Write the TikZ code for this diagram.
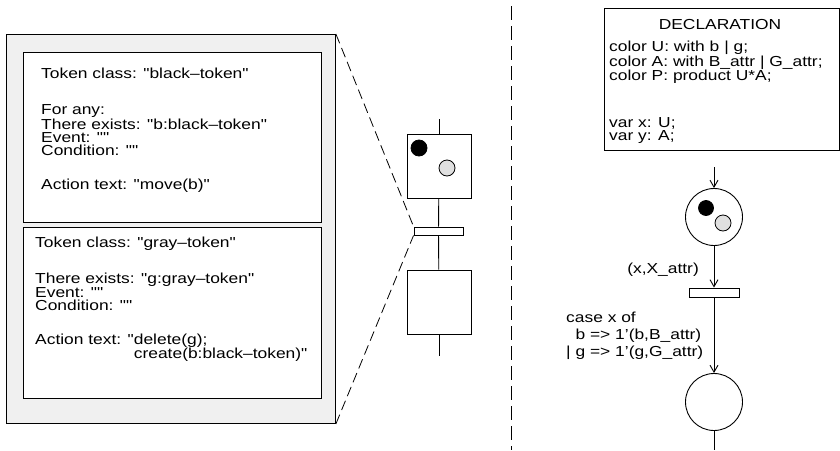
\documentclass[tikz,border=0pt]{standalone}
\usepackage{fontspec}
\setmainfont{Liberation Sans}[FakeStretch=1.2, Ligatures=TeXOff]
\usetikzlibrary{positioning, arrows.meta, calc}
\definecolor{panelgray}{HTML}{F0F0F0}
\definecolor{tokengray}{HTML}{E0E0E0}

\tikzset{
  frame/.style={draw, line width=0.9pt, inner sep=0pt, anchor=north west},
  txt/.style={inner sep=0pt, align=left, font=\fontsize{14.5}{12.8}\selectfont},
  place/.style={draw, line width=0.9pt, circle, minimum size=57pt, inner sep=0pt},
  sqplace/.style={draw, line width=0.9pt, minimum size=64pt, inner sep=0pt},
  trans/.style={draw, line width=0.9pt, fill=white, inner sep=0pt},
  token/.style={draw, line width=0.8pt, circle, inner sep=0pt, minimum size=16pt},
  arc/.style={line width=0.9pt, -{Straight Barb[length=7pt,width=8pt]}},
  zoomline/.style={line width=0.8pt, dash pattern=on 10pt off 5pt},
  divider/.style={line width=0.9pt, dash pattern=on 14pt off 6pt}
}

\begin{document}
\begin{tikzpicture}[x=1pt, y=-1pt]
  \useasboundingbox (0,0) rectangle (840,450);

  % left panel with the two token classes
  \node[frame, fill=panelgray, minimum width=329pt, minimum height=389pt] (panel) at (6,34) {};
  \node[frame, fill=white, minimum width=298pt, minimum height=170pt] (blackbox) at (23,52) {};
  \node[frame, fill=white, minimum width=298pt, minimum height=171pt] (graybox) at (23,227) {};

  \node[txt, anchor=north west] (blacktxt) at (41,67.4) {%
    Token class: "black–token"\\[24pt]
    For any:\\
    There exists: "b:black–token"\\
    Event: ""\\
    Condition: ""\\[22pt]
    Action text: "move(b)"};
  \node[txt, anchor=north west] (graytxt) at (35,236.4) {%
    Token class: "gray–token"\\[22pt]
    There exists: "g:gray–token"\\
    Event: ""\\
    Condition: ""\\[21pt]
    Action text: "delete(g);\\
    \phantom{Action text: "}create(b:black–token)"};

  % small net in the middle
  \coordinate (ntop) at (439,119);
  \node[sqplace] (nplace1) at (439,166) {};
  \node[token, fill=black] (nblack) at (419,148) {};
  \node[token, fill=tokengray] (ngray) at (447,168) {};
  \node[trans, minimum width=49pt, minimum height=8pt] (ntrans) at (438.5,231) {};
  \node[sqplace] (nplace2) at (439,302) {};
  \coordinate (nbot) at (439,356);
  \draw[line width=0.9pt] (ntop) -- (nplace1);
  \draw[line width=0.9pt] (nplace1) -- (ntrans);
  \draw[line width=0.9pt] (ntrans) -- (nplace2);
  \draw[line width=0.9pt] (nplace2) -- (nbot);

  \draw[zoomline] (panel.north east) -- (ntrans.north west);
  \draw[zoomline] (panel.south east) -- (ntrans.south west);

  \draw[divider] (511,6) -- (511,450);

  % coloured net on the right
  \node[frame, fill=white, minimum width=235pt, minimum height=142pt] (decl) at (604,8) {};
  \node[txt, anchor=base] (decltitle) at (720,29) {DECLARATION};
  \node[txt, anchor=north west, font=\fontsize{14.5}{12.5}\selectfont] (decltxt) at (609,41) {%
    color U: with b | g;\\
    color A: with B\_attr | G\_attr;\\
    color P: product U*A;\\[33pt]
    var x: U;\\
    var y: A;};

  \coordinate (rin) at (714,167);
  \node[place] (rplace1) at (714,217) {};
  \node[token, fill=black, minimum size=15pt] (rblack) at (706,208) {};
  \node[token, fill=tokengray] (rgray) at (723,223) {};
  \node[trans, minimum width=50pt, minimum height=9pt] (rtrans) at (714,292.5) {};
  \node[place] (rplace2) at (714,402) {};
  \coordinate (rout) at (714,450);
  \draw[arc] (rin) -- (rplace1);
  \draw[arc] (rplace1) -- (rtrans);
  \draw[arc] (rtrans) -- (rplace2);
  \draw[line width=0.9pt] (rplace2) -- (rout);

  \node[txt, anchor=base east] (inlbl) at (699,273) {(x,X\_attr)};
  \node[txt, anchor=north west, font=\fontsize{14.5}{17}\selectfont] (outlbl) at (566,311.4) {%
    case x of\\
    \phantom{|\ }b => 1’(b,B\_attr)\\
    | g => 1’(g,G\_attr)};
\end{tikzpicture}
\end{document}
